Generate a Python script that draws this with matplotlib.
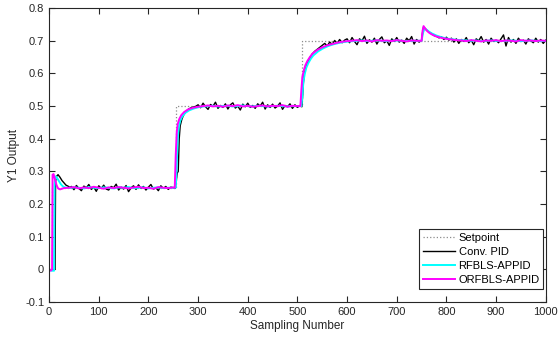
import matplotlib
matplotlib.use("Agg")
import matplotlib.pyplot as plt
from matplotlib.ticker import FuncFormatter

# setpoint (step changes)
sp_x = [0, 5, 255, 510, 1000]
sp_y = [0.0, 0.25, 0.5, 0.7, 0.7]

# Conv. PID (noisy)
pid_x = ([0, 5, 12, 13, 15, 18, 22, 26, 30, 34, 38, 42]
         + list(range(45, 255, 5))
         + [254, 256, 258, 260, 262, 264, 267, 270, 274, 278, 282, 286, 290, 295]
         + list(range(300, 510, 5))
         + [509, 510, 512, 514, 517, 520, 525, 530, 535, 540, 545, 550, 555,
            560, 565, 570, 575, 580, 585, 590, 595]
         + list(range(600, 750, 5))
         + [750, 752, 754, 757, 760, 765, 770, 775, 780, 785, 790, 795]
         + list(range(800, 1001, 5)))
pid_y = ([0.0, -0.003, 0.0, 0.27, 0.285, 0.29, 0.282, 0.272, 0.265, 0.258, 0.255, 0.251]
         + [0.254, 0.244, 0.257, 0.248, 0.241, 0.255, 0.250, 0.260, 0.245, 0.252,
            0.239, 0.256, 0.248, 0.258, 0.246, 0.243, 0.254, 0.250, 0.261, 0.243,
            0.252, 0.246, 0.257, 0.238, 0.250, 0.256, 0.245, 0.259, 0.248, 0.254,
            0.243, 0.252, 0.260, 0.246, 0.250, 0.241, 0.256, 0.248, 0.254, 0.245,
            0.252, 0.250]
         + [0.248, 0.27, 0.295, 0.30, 0.40, 0.44, 0.458, 0.47, 0.48, 0.487, 0.492,
            0.495, 0.497, 0.499]
         + [0.504, 0.495, 0.509, 0.498, 0.490, 0.505, 0.500, 0.512, 0.493, 0.502,
            0.496, 0.507, 0.491, 0.504, 0.510, 0.494, 0.500, 0.488, 0.506, 0.498,
            0.509, 0.496, 0.502, 0.493, 0.507, 0.500, 0.512, 0.491, 0.504, 0.496,
            0.506, 0.494, 0.500, 0.510, 0.490, 0.502, 0.498, 0.507, 0.493, 0.504,
            0.496, 0.502]
         + [0.498, 0.52, 0.57, 0.60, 0.618, 0.632, 0.648, 0.66, 0.668, 0.674, 0.680,
            0.686, 0.692, 0.684, 0.696, 0.689, 0.701, 0.692, 0.704, 0.694, 0.702]
         + [0.706, 0.694, 0.710, 0.698, 0.688, 0.706, 0.700, 0.714, 0.692, 0.703,
            0.696, 0.708, 0.690, 0.704, 0.712, 0.694, 0.700, 0.686, 0.706, 0.698,
            0.710, 0.696, 0.702, 0.692, 0.708, 0.700, 0.713, 0.690, 0.704, 0.696]
         + [0.701, 0.725, 0.742, 0.738, 0.733, 0.726, 0.722, 0.716, 0.714, 0.709,
            0.712, 0.704]
         + [0.711, 0.702, 0.708, 0.696, 0.706, 0.692, 0.704, 0.698, 0.710, 0.694,
            0.702, 0.688, 0.706, 0.700, 0.713, 0.696, 0.704, 0.690, 0.708, 0.698,
            0.702, 0.694, 0.706, 0.718, 0.684, 0.710, 0.696, 0.704, 0.692, 0.708,
            0.698, 0.702, 0.690, 0.706, 0.700, 0.694, 0.708, 0.696, 0.704, 0.692,
            0.702])

# RFBLS-APPID
rf_x = ([0, 5, 10, 11, 13, 16, 20, 24, 28, 32, 36]
        + list(range(40, 255, 10))
        + [255, 257, 259, 261, 264, 268, 274, 282, 292, 302]
        + list(range(310, 510, 10))
        + [508, 510, 512, 515, 518, 522, 527, 532, 542, 552, 562, 572, 582, 592, 602]
        + list(range(610, 750, 10))
        + [750, 753, 756, 760, 765, 770, 780, 790, 800, 810, 820]
        + list(range(830, 1001, 10)))
rf_y = ([0.0, -0.004, -0.004, 0.26, 0.285, 0.28, 0.27, 0.26, 0.254, 0.251, 0.25]
        + [0.249, 0.251, 0.250, 0.248, 0.252, 0.250, 0.249, 0.251, 0.250, 0.248,
           0.251, 0.250, 0.252, 0.249, 0.250, 0.251, 0.248, 0.250, 0.251, 0.249,
           0.250, 0.250]
        + [0.25, 0.32, 0.40, 0.435, 0.455, 0.468, 0.479, 0.487, 0.493, 0.497]
        + [0.499, 0.500, 0.501, 0.499, 0.500, 0.501, 0.499, 0.500, 0.502, 0.500,
           0.499, 0.501, 0.500, 0.499, 0.500, 0.501, 0.500, 0.499, 0.500, 0.500]
        + [0.50, 0.53, 0.575, 0.60, 0.618, 0.632, 0.645, 0.655, 0.668, 0.677,
           0.684, 0.689, 0.693, 0.696, 0.698]
        + [0.699, 0.700, 0.701, 0.699, 0.700, 0.701, 0.700, 0.699, 0.700, 0.701,
           0.700, 0.699, 0.700, 0.700]
        + [0.700, 0.725, 0.738, 0.734, 0.728, 0.723, 0.716, 0.711, 0.707, 0.705, 0.703]
        + [0.702, 0.701, 0.700, 0.701, 0.699, 0.700, 0.701, 0.700, 0.699, 0.700,
           0.701, 0.700, 0.699, 0.700, 0.701, 0.700, 0.699, 0.700])

# ORFBLS-APPID
orf_x = ([0, 3, 6, 7, 9, 12, 15, 18, 22, 26, 30]
         + list(range(40, 255, 10))
         + [253, 255, 257, 259, 262, 266, 272, 280, 290, 300]
         + list(range(310, 510, 10))
         + [506, 508, 510, 513, 516, 520, 525, 530, 540, 550, 560, 570, 580, 590, 600]
         + list(range(610, 750, 10))
         + [750, 752, 754, 757, 760, 765, 770, 780, 790, 800, 810, 820]
         + list(range(830, 1001, 10)))
orf_y = ([0.0, -0.004, 0.0, 0.29, 0.292, 0.275, 0.258, 0.248, 0.245, 0.247, 0.249]
         + [0.250, 0.252, 0.248, 0.251, 0.249, 0.253, 0.250, 0.247, 0.251, 0.249,
            0.252, 0.250, 0.248, 0.251, 0.253, 0.249, 0.250, 0.247, 0.252, 0.250,
            0.249, 0.251]
         + [0.25, 0.35, 0.42, 0.445, 0.46, 0.472, 0.482, 0.49, 0.495, 0.498]
         + [0.500, 0.502, 0.499, 0.501, 0.498, 0.502, 0.500, 0.503, 0.499, 0.501,
            0.498, 0.500, 0.502, 0.499, 0.501, 0.500, 0.503, 0.498, 0.501, 0.500]
         + [0.50, 0.55, 0.59, 0.61, 0.625, 0.638, 0.65, 0.66, 0.672, 0.68, 0.686,
            0.69, 0.694, 0.697, 0.699]
         + [0.700, 0.702, 0.699, 0.701, 0.698, 0.702, 0.700, 0.701, 0.699, 0.702,
            0.700, 0.698, 0.701, 0.700]
         + [0.700, 0.73, 0.745, 0.738, 0.732, 0.725, 0.72, 0.713, 0.709, 0.706,
            0.704, 0.702]
         + [0.701, 0.699, 0.702, 0.700, 0.698, 0.701, 0.700, 0.702, 0.699, 0.701,
            0.700, 0.698, 0.702, 0.700, 0.701, 0.699, 0.701, 0.700])

xticks = list(range(0, 1001, 100))
yticks = [-0.1, 0, 0.1, 0.2, 0.3, 0.4, 0.5, 0.6, 0.7, 0.8]

plt.rcParams['font.family'] = ['Liberation Sans', 'DejaVu Sans']
plt.rcParams['font.size'] = 8

fig = plt.figure(figsize=(5.58, 3.39), dpi=100)
ax = fig.add_axes([0.088, 0.109, 0.890, 0.867])

ax.step(sp_x, sp_y, where='post', color='#8c8c8c', linestyle=':', linewidth=0.9, label='Setpoint')
ax.plot(pid_x, pid_y, color='k', linewidth=1.0, label='Conv. PID')
ax.plot(rf_x, rf_y, color='cyan', linewidth=1.4, label='RFBLS-APPID')
ax.plot(orf_x, orf_y, color='magenta', linewidth=1.4, label='ORFBLS-APPID')

ax.set_xlim(0, 1000)
ax.set_ylim(-0.1, 0.8)
ax.set_xticks(xticks)
ax.set_yticks(yticks)
ax.yaxis.set_major_formatter(FuncFormatter(lambda v, p: '%g' % round(v, 2)))
ax.tick_params(direction='in', top=True, right=True, length=4, width=0.8,
               colors='#262626', labelcolor='#262626', labelsize=8)
for s in ax.spines.values():
    s.set_color('#262626')
    s.set_linewidth(0.8)

ax.set_xlabel('Sampling Number', fontsize=8.5, color='#262626', labelpad=2)
ax.set_ylabel('Y1 Output', fontsize=8.5, color='#262626', labelpad=4)

leg = ax.legend(loc='lower left', bbox_to_anchor=(0.744, 0.044, 0.25, 0.21), mode='expand',
                fancybox=False, edgecolor='#262626', framealpha=1,
                fontsize=8, handlelength=2.9, handletextpad=0.3, borderaxespad=0,
                labelspacing=0.35, borderpad=0.4)
leg.get_frame().set_linewidth(0.8)

fig.savefig('out.png', dpi=100)
